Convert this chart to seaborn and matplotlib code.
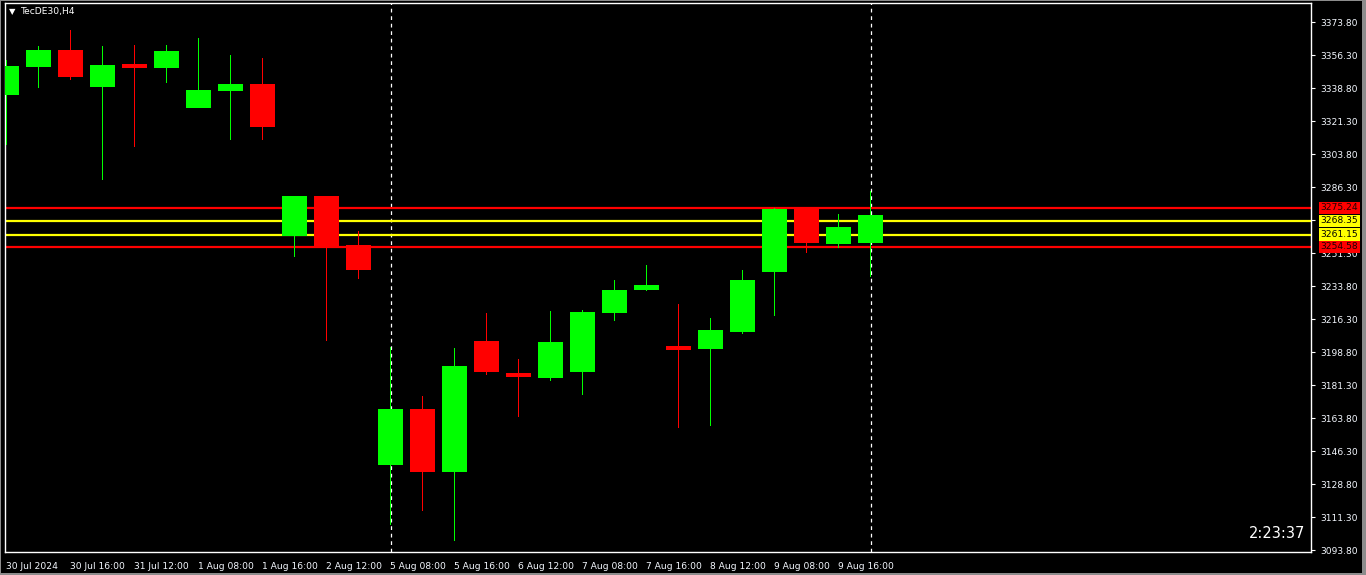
import matplotlib
matplotlib.use('Agg')
import matplotlib.pyplot as plt
import numpy as np
import pandas as pd
import seaborn as sns

# dados OHLC (H4)
opens  = [3335.1, 3349.9, 3359.0, 3339.3, 3351.5, 3349.4, 3328.2, 3337.2, 3340.9, 3260.5,
          3281.5, 3255.4, 3138.9, 3168.6, 3135.2, 3204.6, 3187.7, 3185.0, 3188.2, 3219.5,
          3231.7, 3202.0, 3200.4, 3209.4, 3241.2, 3275.2, 3256.1, 3256.6]
highs  = [3353.7, 3361.1, 3369.6, 3361.1, 3361.6, 3361.6, 3365.3, 3356.3, 3354.7, 3281.5,
          3281.5, 3263.0, 3201.6, 3175.5, 3200.9, 3219.5, 3195.1, 3220.6, 3221.1, 3237.0,
          3245.0, 3224.3, 3216.9, 3242.3, 3275.2, 3275.2, 3272.0, 3284.2]
lows   = [3308.6, 3338.8, 3343.0, 3290.0, 3307.5, 3341.5, 3328.2, 3311.2, 3311.2, 3249.4,
          3204.6, 3237.5, 3107.1, 3114.5, 3098.6, 3186.6, 3164.4, 3183.4, 3176.0, 3215.3,
          3231.2, 3158.5, 3159.6, 3208.4, 3217.9, 3251.3, 3253.9, 3238.6]
closes = [3350.5, 3359.0, 3344.6, 3351.0, 3349.4, 3358.4, 3337.7, 3340.9, 3318.1, 3281.5,
          3254.7, 3242.3, 3168.6, 3135.2, 3191.4, 3188.2, 3185.6, 3204.1, 3220.0, 3231.7,
          3234.3, 3199.9, 3210.5, 3237.0, 3274.6, 3256.6, 3265.1, 3271.5]

date_labels = ['30 Jul 2024', '30 Jul 16:00', '31 Jul 12:00', '1 Aug 08:00', '1 Aug 16:00',
               '2 Aug 12:00', '5 Aug 08:00', '5 Aug 16:00', '6 Aug 12:00', '7 Aug 08:00',
               '7 Aug 16:00', '8 Aug 12:00', '9 Aug 08:00', '9 Aug 16:00']

price_ticks = [3373.80, 3356.30, 3338.80, 3321.30, 3303.80, 3286.30, 3268.80, 3251.30,
               3233.80, 3216.30, 3198.80, 3181.30, 3163.80, 3146.30, 3128.80, 3111.30, 3093.80]

levels = [3275.24, 3268.35, 3261.15, 3254.58]
level_colors = ['#ff0000', '#ffff00', '#ffff00', '#ff0000']

df = pd.DataFrame({'open': opens, 'high': highs, 'low': lows, 'close': closes})
df['idx'] = np.arange(len(df))
df['cor'] = np.where(df['close'] >= df['open'], '#00ff00', '#ff0000')

sns.set_style('dark', {'axes.facecolor': 'black', 'figure.facecolor': 'black'})
plt.rcParams['font.family'] = ['DejaVu Sans']

fig = plt.figure(figsize=(13.66, 5.75), dpi=100)
ax = fig.add_axes([5/1366, 23/575, 1306/1366, 549/575])
ax.set_facecolor('black')

# pavios: barras de 1 px (1 vela = 32 px)
ax.bar(df['idx'], df['high'] - df['low'], bottom=df['low'], width=1/32,
       color=df['cor'], linewidth=0, zorder=3)
# corpos
ax.bar(df['idx'], (df['close'] - df['open']).abs(), bottom=df[['open', 'close']].min(axis=1),
       width=0.78, color=df['cor'], linewidth=0, zorder=4)

# linhas de nivel
for lv, c in zip(levels, level_colors):
    ax.axhline(lv, color=c, linewidth=1.6, zorder=2)

# separadores de periodo
for xi in [12, 27]:
    ax.axvline(xi, color='white', linewidth=0.9, linestyle=(0, (3, 3)), zorder=1)

ax.set_xlim(-1.5/32, 1304.5/32)
ax.set_ylim(3092.8, 3383.9)

ax.set_xticks(np.arange(0, 28, 2))
ax.set_xticklabels(date_labels, ha='left')
ax.yaxis.tick_right()
ax.set_yticks(price_ticks)
ax.set_yticklabels([f'{p:.2f}' for p in price_ticks], ha='left')
ax.tick_params(axis='x', colors='white', labelsize=6.6, length=4, width=0.8, pad=3, direction='out')
ax.tick_params(axis='y', colors='white', labelsize=6.6, length=3, width=0.8, pad=4, direction='out')
for lbl in ax.get_xticklabels() + ax.get_yticklabels():
    lbl.set_color('#f4f8ff')
for s in ax.spines.values():
    s.set_color('white')
    s.set_linewidth(1)
ax.grid(False)

# etiquetas de preco
tr = ax.get_yaxis_transform()
for lv, c in zip(levels, level_colors):
    ax.text(1.0072, lv, f'{lv:.2f}', transform=tr, ha='left', va='center', fontsize=6.6,
            color='#200000' if c == '#ff0000' else 'black', clip_on=False, zorder=6,
            bbox=dict(boxstyle='square,pad=0.18', fc=c, ec='none'))

ax.text(0.9954, 0.033, '2:23:37', transform=ax.transAxes, ha='right', va='center',
        fontsize=10.5, color='white')

fig.text(12.5/1366, 1 - 11.5/575, '\u25bc', fontsize=6, color='white', ha='center', va='center')
fig.text(21/1366, 1 - 11.5/575, 'TecDE30,H4', fontsize=6.6, color='white', ha='left', va='center')

# moldura cinza da janela (topo/esquerda finos, direita/baixo mais grossos)
cinza = '#8c8c8c'
for (x0, y0, w, h) in [(0, 574, 1366, 1), (0, 0, 1, 575), (1362, 0, 4, 575), (0, 0, 1366, 2)]:
    fig.patches.append(plt.Rectangle((x0/1366, y0/575), w/1366, h/575, transform=fig.transFigure,
                                     facecolor=cinza, edgecolor='none'))

plt.savefig('out.png', dpi=100, facecolor='black')
